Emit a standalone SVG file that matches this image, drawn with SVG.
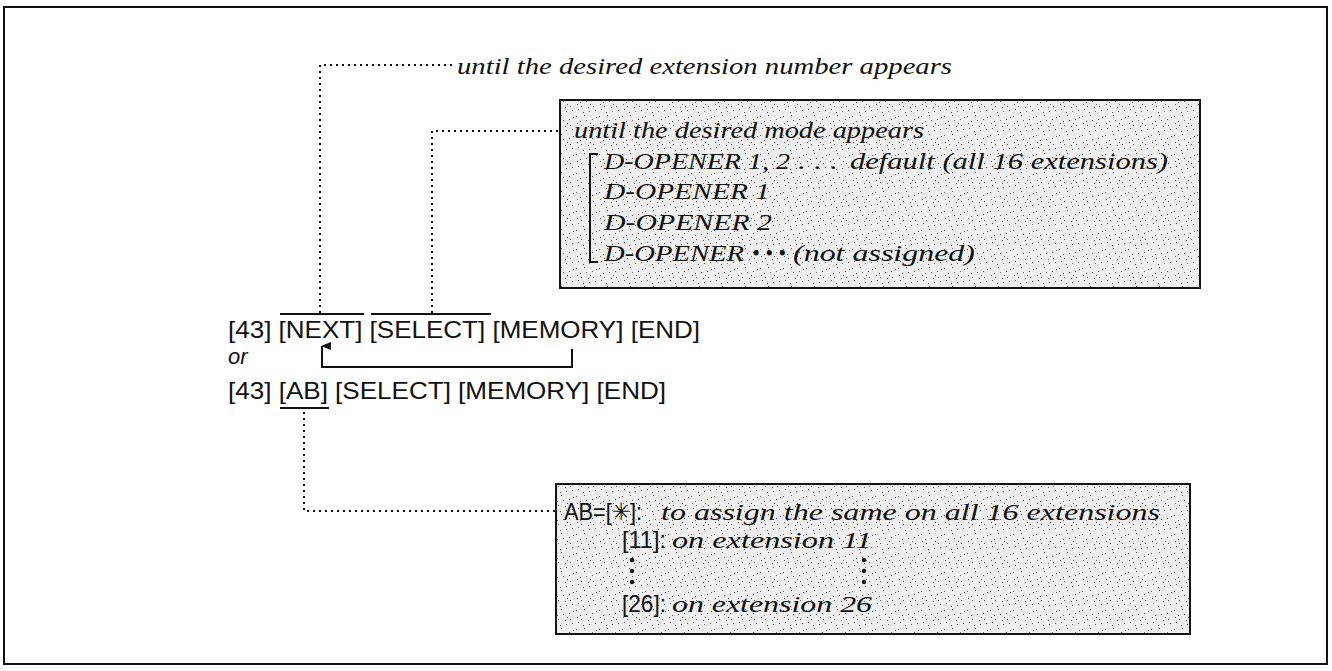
<svg xmlns="http://www.w3.org/2000/svg" width="1332" height="671" viewBox="0 0 1332 671">
<style>
.sans{font-family:"Liberation Sans",Arial,sans-serif;font-size:24px;fill:#111}
.obl{font-family:"Liberation Sans",Arial,sans-serif;font-style:italic;font-size:22px;fill:#111}
.it{font-family:"Liberation Serif","Times New Roman",serif;font-style:italic;font-size:24px;fill:#111}
.dot{fill:none;stroke:#111;stroke-width:2;stroke-dasharray:2 4}
.solid{fill:none;stroke:#111;stroke-width:2}
.box{fill:url(#spk);stroke:#111;stroke-width:2}
</style>
<defs>
<pattern id="spk" width="23" height="19" patternUnits="userSpaceOnUse">
<rect width="23" height="19" fill="#efefef"/>
<g fill="#666">
<rect x="1" y="2" width="1" height="1"/><rect x="5" y="7" width="1" height="1"/><rect x="9" y="1" width="1" height="1"/>
<rect x="13" y="12" width="1" height="1"/><rect x="17" y="5" width="1" height="1"/><rect x="20" y="15" width="1" height="1"/>
<rect x="3" y="14" width="1" height="1"/><rect x="8" y="17" width="1" height="1"/><rect x="15" y="9" width="1" height="1"/>
<rect x="21" y="3" width="1" height="1"/><rect x="11" y="6" width="1" height="1"/><rect x="6" y="11" width="1" height="1"/>
<rect x="18" y="11" width="1" height="1"/><rect x="2" y="9" width="1" height="1"/><rect x="14" y="16" width="1" height="1"/>
</g>
</pattern>
<marker id="arr" markerWidth="8" markerHeight="10" refX="4" refY="1" orient="auto-start-reverse" markerUnits="userSpaceOnUse">
<path d="M0,10 L4,0 L8,10 Z" fill="#111"/>
</marker>
</defs>
<rect x="4" y="7" width="1323" height="657" fill="#fff" stroke="#111" stroke-width="2"/>

<g id="connectors">
<polyline class="dot" points="452,65 320,65 320,314"/>
<polyline class="dot" points="558,131 432,131 432,314"/>
<polyline class="dot" points="304,412 304,511 555,511"/>
<polyline class="solid" points="572,349 572,367 322,367 322,346" marker-end="url(#arr)"/>
</g>

<g id="label-extension">
<text class="it" x="457" y="74" font-size="25" textLength="495" lengthAdjust="spacingAndGlyphs">until the desired extension number appears</text>
</g>

<g id="mode-box">
<rect class="box" x="560" y="100" width="640" height="188"/>
<text class="it" x="574" y="138" textLength="350" lengthAdjust="spacingAndGlyphs">until the desired mode appears</text>
<polyline class="solid" stroke-width="2.5" points="598,154 590,154 590,262 598,262"/>
<text class="it" x="604" y="169" textLength="186" lengthAdjust="spacingAndGlyphs">D-OPENER 1, 2</text>
<text class="it" x="798" y="169" textLength="40" lengthAdjust="spacingAndGlyphs">. . .</text>
<text class="it" x="850" y="169" textLength="318" lengthAdjust="spacingAndGlyphs">default (all 16 extensions)</text>
<text class="it" x="604" y="199" textLength="166" lengthAdjust="spacingAndGlyphs">D-OPENER 1</text>
<text class="it" x="604" y="230" textLength="168" lengthAdjust="spacingAndGlyphs">D-OPENER 2</text>
<text class="it" x="604" y="261" textLength="140" lengthAdjust="spacingAndGlyphs">D-OPENER</text>
<text class="it" x="752" y="261" textLength="34" lengthAdjust="spacingAndGlyphs">• • •</text>
<text class="it" x="793" y="261" textLength="182" lengthAdjust="spacingAndGlyphs">(not assigned)</text>
</g>

<g id="sequence">
<text class="sans" x="228" y="338" textLength="472" lengthAdjust="spacingAndGlyphs">[43] [NEXT] [SELECT] [MEMORY] [END]</text>
<line class="solid" x1="280" y1="314" x2="364" y2="314"/>
<line class="solid" x1="371" y1="314" x2="491" y2="314"/>
<text class="obl" x="228" y="364">or</text>
<text class="sans" x="228" y="399" textLength="438" lengthAdjust="spacingAndGlyphs">[43] [AB] [SELECT] [MEMORY] [END]</text>
<line class="solid" x1="280" y1="408" x2="329" y2="408"/>
</g>

<g id="ab-box">
<rect class="box" x="556" y="484" width="634" height="150"/>
<text class="sans" x="564" y="520" textLength="78" lengthAdjust="spacingAndGlyphs">AB=[✳]:</text>
<text class="it" x="661" y="520" textLength="499" lengthAdjust="spacingAndGlyphs">to assign the same on all 16 extensions</text>
<text class="sans" x="622" y="548" textLength="44" lengthAdjust="spacingAndGlyphs">[11]:</text>
<text class="it" x="672" y="548" textLength="200" lengthAdjust="spacingAndGlyphs">on extension 11</text>
<g fill="#111">
<circle cx="632" cy="560" r="2.2"/><circle cx="632" cy="571" r="2.2"/><circle cx="632" cy="582" r="2.2"/>
<circle cx="864" cy="560" r="2.2"/><circle cx="864" cy="571" r="2.2"/><circle cx="864" cy="582" r="2.2"/>
</g>
<text class="sans" x="622" y="612" textLength="44" lengthAdjust="spacingAndGlyphs">[26]:</text>
<text class="it" x="672" y="612" textLength="200" lengthAdjust="spacingAndGlyphs">on extension 26</text>
</g>
</svg>
